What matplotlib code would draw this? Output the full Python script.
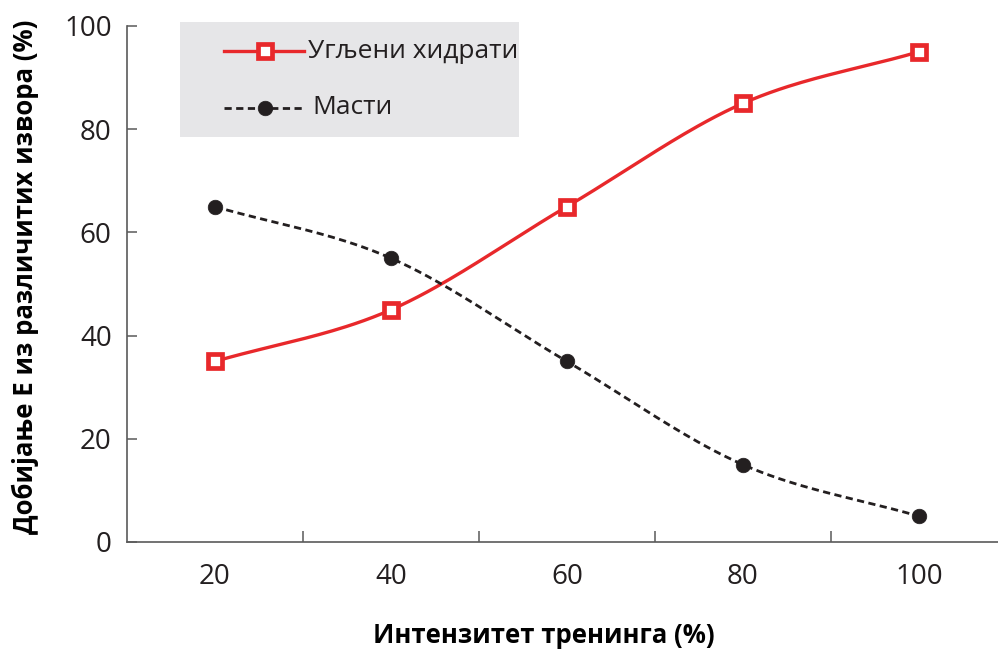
import numpy as np
import matplotlib
matplotlib.use("Agg")
import matplotlib.pyplot as plt
from matplotlib.lines import Line2D
from matplotlib.patches import Rectangle

intensity = [20, 40, 60, 80, 100]
carbs = [35, 45, 65, 85, 95]
fats = [65, 55, 35, 15, 5]
series_names = ["Угљени хидрати", "Масти"]
x_label = "Интензитет тренинга (%)"
y_label = "Добијање Е из различитих извора (%)"

RED = "#e8282b"
DARK = "#231f20"
AXIS = "#5a5a5a"

plt.rcParams["font.family"] = ["Open Sans", "DejaVu Sans"]


def smooth(xs, ys, n=40):
    """Catmull-Rom curve through the given points."""
    xs = np.asarray(xs, float)
    ys = np.asarray(ys, float)
    px = np.concatenate([[2 * xs[0] - xs[1]], xs, [2 * xs[-1] - xs[-2]]])
    py = np.concatenate([[2 * ys[0] - ys[1]], ys, [2 * ys[-1] - ys[-2]]])
    outx, outy = [], []
    t = np.linspace(0, 1, n)
    for i in range(1, len(px) - 2):
        for arr, out in ((px, outx), (py, outy)):
            p0, p1, p2, p3 = arr[i - 1], arr[i], arr[i + 1], arr[i + 2]
            seg = 0.5 * ((2 * p1) + (-p0 + p2) * t
                         + (2 * p0 - 5 * p1 + 4 * p2 - p3) * t ** 2
                         + (-p0 + 3 * p1 - 3 * p2 + p3) * t ** 3)
            out.extend(seg if i == 1 else seg[1:])
    return np.array(outx), np.array(outy)


carb_line = dict(color=RED, lw=2.4)
carb_mark = dict(marker="s", ms=9.5, mfc="white", mec=RED, mew=3.4)
fat_line = dict(color=DARK, lw=2.0, ls=(0, (2.6, 1.6)))
fat_mark = dict(marker="o", ms=10.5, mfc=DARK, mec=DARK, mew=0.5)

fig = plt.figure(figsize=(9.98, 6.51), dpi=100)
ax = fig.add_axes([127 / 998, 109 / 651, 871 / 998, 516 / 651])

cx, cy = smooth(intensity, carbs)
fx, fy = smooth(intensity, fats)
ax.plot(cx, cy, zorder=3, **carb_line)
ax.plot(fx, fy, zorder=3, **fat_line)
ax.plot(intensity, carbs, ls="none", zorder=4, **carb_mark)
ax.plot(intensity, fats, ls="none", zorder=4, **fat_mark)

ax.set_xlim(10, 109)
ax.set_ylim(0, 100)
ax.set_xticks(intensity)
ax.set_xticks([30, 50, 70, 90], minor=True)
ax.set_yticks([0, 20, 40, 60, 80, 100])
ax.tick_params(axis="x", which="major", length=0, pad=15, labelsize=20,
               labelcolor=DARK)
ax.tick_params(axis="x", which="minor", direction="in", length=8,
               width=1.1, color=AXIS)
ax.tick_params(axis="y", direction="in", length=7, width=1.1, color=AXIS,
               pad=11, labelsize=20, labelcolor=DARK)
for s in ("top", "right"):
    ax.spines[s].set_visible(False)
for s in ("left", "bottom"):
    ax.spines[s].set_color(AXIS)
    ax.spines[s].set_linewidth(1.2)

ax.set_xlabel(x_label, fontsize=18.5, fontweight="bold", color="black")
ax.set_ylabel(y_label, fontsize=18.5, fontweight="bold", color="black")
ax.xaxis.label.set_va("center")
ax.yaxis.label.set_va("center")
ax.xaxis.set_label_coords(0.479, -0.182)
ax.yaxis.set_label_coords(-0.117, 0.5145)

# Legend panel
fig.patches.append(Rectangle((180 / 998, 1 - 137 / 651), 339 / 998,
                             115 / 651, transform=fig.transFigure,
                             facecolor="#e6e6e8", edgecolor="none", zorder=0))
rows = [(51, 308, {**carb_line, **carb_mark}),
        (108, 312, {**fat_line, **fat_mark})]
for (ypx, xpx, style), name in zip(rows, series_names):
    yf = 1 - ypx / 651
    fig.add_artist(Line2D([224 / 998, 265 / 998, 304 / 998], [yf, yf, yf],
                          markevery=[1], transform=fig.transFigure, **style))
    fig.text(xpx / 998, yf, name, fontsize=19, color=DARK, va="center",
             ha="left")

fig.savefig("out.png", dpi=100)
